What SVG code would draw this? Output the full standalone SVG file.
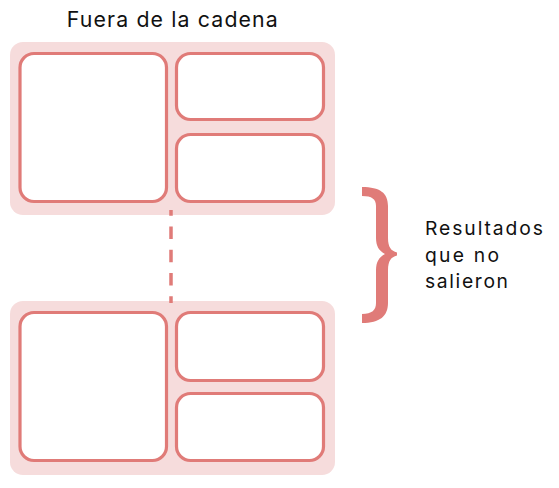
<svg xmlns="http://www.w3.org/2000/svg" width="559" height="488" viewBox="0 0 559 488">
<style>
.panel{fill:#f6dcdc}
.box{fill:#ffffff;stroke:#e07b78;stroke-width:3.2}
.lbl{font-family:Inter,"Open Sans","Liberation Sans",sans-serif;fill:#111111}
.conn{stroke:#e07b78;stroke-width:3.5;fill:none}
</style>
<rect width="559" height="488" fill="#ffffff"/>
<text class="lbl" x="172.3" y="26.7" font-size="21.3" text-anchor="middle" textLength="211" lengthAdjust="spacing">Fuera de la cadena</text>
<g id="chain-top">
<rect class="panel" x="10" y="42" width="325" height="173" rx="13"/>
<rect class="box" x="20" y="53.5" width="146.5" height="148" rx="14"/>
<rect class="box" x="176.5" y="53.5" width="147" height="66" rx="14"/>
<rect class="box" x="176.5" y="134.5" width="147" height="67" rx="14"/>
</g>
<g id="chain-bottom">
<rect class="panel" x="10" y="301" width="325" height="174" rx="13"/>
<rect class="box" x="20" y="312.5" width="146.5" height="148" rx="14"/>
<rect class="box" x="176.5" y="312.5" width="147" height="68" rx="14"/>
<rect class="box" x="176.5" y="393.5" width="147" height="67" rx="14"/>
</g>
<g id="connectors">
<line class="conn" x1="171" y1="210" x2="171" y2="303" stroke-dasharray="12.6 10.7" stroke-dashoffset="6.9"/>
</g>
<g id="brace">
<path fill="#e07b78" d="M362 187 C380 187 388 193 388 206 L388 238 C388 247 391 251 397 252.5 L397 255.5 C391 257 388 261 388 270 L388 303 C388 316 380 323 362 323 L362 314 C372 314 376 310 376 303 L376 270 C376 262 379 257 385 254 C379 251 376 246 376 238 L376 206 C376 199 372 196 362 196 Z"/>
</g>
<g id="label">
<text class="lbl" x="425" y="235" font-size="19.3" textLength="118" lengthAdjust="spacing">Resultados</text>
<text class="lbl" x="425" y="261.7" font-size="19.3" textLength="74" lengthAdjust="spacing">que no</text>
<text class="lbl" x="425" y="288.3" font-size="19.3" textLength="83" lengthAdjust="spacing">salieron</text>
</g>
</svg>
